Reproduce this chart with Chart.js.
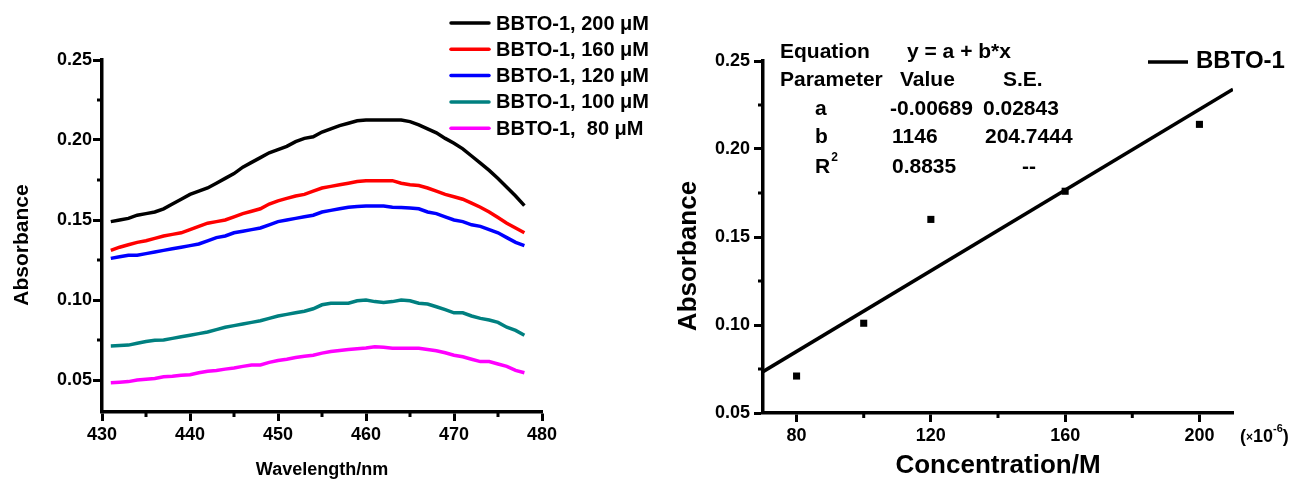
<!DOCTYPE html>
<html>
<head>
<meta charset="utf-8">
<script src="https://cdn.jsdelivr.net/npm/chart.js@4.4.0/dist/chart.umd.min.js"></script>
<style>
  html, body { margin: 0; padding: 0; background: #fff; }
  body { width: 1298px; height: 486px; position: relative; overflow: hidden; }
  canvas { position: absolute; top: 0; }
  #spectra { left: 0; }
  #calib { left: 660px; }
</style>
</head>
<body>
<canvas id="spectra" width="680" height="486"></canvas>
<canvas id="calib" width="638" height="486"></canvas>
<script>
// ---- left panel: absorption spectra ----
const wavelengths = [431, 432, 433, 434, 435, 436, 437, 438, 439, 440,
  441, 442, 443, 444, 445, 446, 447, 448, 449, 450,
  451, 452, 453, 454, 455, 456, 457, 458, 459, 460,
  461, 462, 463, 464, 465, 466, 467, 468, 469, 470,
  471, 472, 473, 474, 475, 476, 477, 478];

const abs200 = [0.149, 0.150, 0.151, 0.153, 0.154, 0.155, 0.157, 0.160, 0.163, 0.166,
  0.168, 0.170, 0.173, 0.176, 0.179, 0.183, 0.186, 0.189, 0.192, 0.194,
  0.196, 0.199, 0.201, 0.202, 0.205, 0.207, 0.209, 0.2105, 0.212, 0.2125,
  0.2125, 0.2125, 0.2125, 0.2125, 0.2115, 0.2095, 0.207, 0.2045, 0.201, 0.198,
  0.1945, 0.190, 0.1855, 0.181, 0.176, 0.1705, 0.165, 0.159];

const abs160 = [0.131, 0.133, 0.1345, 0.136, 0.137, 0.1385, 0.140, 0.141, 0.142, 0.144,
  0.146, 0.148, 0.149, 0.150, 0.152, 0.154, 0.1555, 0.157, 0.160, 0.162,
  0.1635, 0.165, 0.166, 0.168, 0.170, 0.171, 0.172, 0.173, 0.174, 0.1745,
  0.1746, 0.1746, 0.1746, 0.173, 0.172, 0.1715, 0.170, 0.168, 0.166, 0.1645,
  0.163, 0.1605, 0.158, 0.155, 0.1515, 0.148, 0.145, 0.142];

const abs120 = [0.126, 0.127, 0.128, 0.128, 0.129, 0.130, 0.131, 0.132, 0.133, 0.134,
  0.135, 0.137, 0.139, 0.140, 0.142, 0.143, 0.144, 0.145, 0.147, 0.149,
  0.150, 0.151, 0.152, 0.153, 0.155, 0.156, 0.157, 0.158, 0.1585, 0.1588,
  0.1588, 0.1588, 0.158, 0.1578, 0.1575, 0.157, 0.155, 0.154, 0.152, 0.150,
  0.149, 0.147, 0.146, 0.144, 0.142, 0.139, 0.136, 0.134];

const abs100 = [0.0713, 0.0715, 0.0718, 0.073, 0.074, 0.0748, 0.075, 0.076, 0.077, 0.078,
  0.079, 0.080, 0.0815, 0.083, 0.084, 0.085, 0.086, 0.087, 0.0885, 0.090,
  0.091, 0.092, 0.093, 0.0945, 0.097, 0.098, 0.098, 0.098, 0.0995, 0.100,
  0.099, 0.0985, 0.099, 0.100, 0.0995, 0.098, 0.0975, 0.0958, 0.094, 0.092,
  0.092, 0.090, 0.0885, 0.0875, 0.086, 0.083, 0.081, 0.078];

const abs80 = [0.0483, 0.0486, 0.049, 0.050, 0.0505, 0.051, 0.052, 0.0523, 0.053, 0.0533,
  0.0545, 0.0555, 0.056, 0.0568, 0.0575, 0.0585, 0.0594, 0.0594, 0.061, 0.0622,
  0.063, 0.064, 0.0648, 0.0655, 0.0668, 0.0678, 0.0685, 0.069, 0.0695, 0.070,
  0.0708, 0.0705, 0.0698, 0.0698, 0.0698, 0.0698, 0.069, 0.0683, 0.067, 0.0655,
  0.0645, 0.063, 0.0615, 0.0615, 0.060, 0.0585, 0.056, 0.0545];

const seriesLabels = ['BBTO-1, 200 \u03bcM', 'BBTO-1, 160 \u03bcM', 'BBTO-1, 120 \u03bcM',
  'BBTO-1, 100 \u03bcM', 'BBTO-1,  80 \u03bcM'];
const seriesColors = ['#000000', '#ff0000', '#0000ff', '#008080', '#ff00ff'];

const spectraXTicks = [430, 440, 450, 460, 470, 480];
const spectraXMinor = [435, 445, 455, 465, 475];
const spectraYTicks = [0.05, 0.10, 0.15, 0.20, 0.25];
const spectraYMinor = [0.075, 0.125, 0.175, 0.225];

// ---- right panel: calibration line ----
const concentrations = [80, 100, 120, 160, 200];
const absMeasured = [0.071, 0.101, 0.160, 0.176, 0.214];
const fitX = [70, 210];
const fitY = [0.0735, 0.234];

const calibXTicks = [80, 120, 160, 200];
const calibXMinor = [100, 140, 180];
const calibYTicks = [0.05, 0.10, 0.15, 0.20, 0.25];
const calibYMinor = [0.075, 0.125, 0.175, 0.225];

const tableRows = [
  ['Equation', 'y = a + b*x', ''],
  ['Parameter', 'Value', 'S.E.'],
  ['a', '-0.00689', '0.02843'],
  ['b', '1146', '204.7444'],
  ['R', '0.8835', '--']
];

const FONT = "'Liberation Sans', Arial, Helvetica, sans-serif";

// short outward tick marks between the labelled ones
const minorTicks = {
  id: 'minorTicks',
  afterDraw(chart, args, opts) {
    const { ctx } = chart;
    const xs = chart.scales.x;
    const ys = chart.scales.y;
    ctx.save();
    ctx.strokeStyle = '#000';
    ctx.lineWidth = opts.width;
    opts.x.forEach(v => {
      const px = xs.getPixelForValue(v);
      ctx.beginPath();
      ctx.moveTo(px, xs.top);
      ctx.lineTo(px, xs.top + opts.length);
      ctx.stroke();
    });
    opts.y.forEach(v => {
      const py = ys.getPixelForValue(v);
      ctx.beginPath();
      ctx.moveTo(ys.right, py);
      ctx.lineTo(ys.right - opts.length, py);
      ctx.stroke();
    });
    ctx.restore();
  }
};

// vertical axis title, placed like Origin does (not centred on the axis)
const yTitle = {
  id: 'yTitle',
  afterDraw(chart, args, opts) {
    const { ctx } = chart;
    ctx.save();
    ctx.translate(opts.x, opts.y);
    ctx.rotate(-Math.PI / 2);
    ctx.font = `bold ${opts.size}px ${FONT}`;
    ctx.fillStyle = '#000';
    ctx.textAlign = 'center';
    ctx.textBaseline = 'middle';
    ctx.fillText(opts.text, 0, 0);
    ctx.restore();
  }
};

function makeAxis(cfg) {
  return {
    type: 'linear',
    min: cfg.min,
    max: cfg.max,
    afterBuildTicks: scale => { scale.ticks = cfg.ticks.map(v => ({ value: v })); },
    afterFit: scale => {
      if (cfg.horizontal) scale.height = cfg.size; else scale.width = cfg.size;
    },
    border: { display: true, color: '#000', width: 3.5 },
    grid: {
      drawOnChartArea: false,
      drawTicks: true,
      tickLength: 9,
      tickWidth: 3,
      color: '#000',
      tickColor: '#000'
    },
    ticks: {
      color: '#000',
      padding: cfg.tickPad,
      font: { family: FONT, size: cfg.tickSize, weight: 'bold' },
      callback: cfg.format
    },
    title: {
      display: !!cfg.title,
      text: cfg.title || '',
      color: '#000',
      font: { family: FONT, size: cfg.titleSize || 12, weight: 'bold', lineHeight: 1 },
      padding: cfg.titlePad || 0
    }
  };
}

const spectraLegend = {
  id: 'spectraLegend',
  afterDraw(chart) {
    const { ctx } = chart;
    ctx.save();
    ctx.font = `bold 20px ${FONT}`;
    ctx.textBaseline = 'middle';
    ctx.textAlign = 'left';
    chart.data.datasets.forEach((ds, i) => {
      const y = 23 + i * 26.3;
      ctx.strokeStyle = ds.borderColor;
      ctx.lineWidth = 3.5;
      ctx.lineCap = 'round';
      ctx.beginPath();
      ctx.moveTo(451, y);
      ctx.lineTo(489, y);
      ctx.stroke();
      ctx.fillStyle = '#000';
      ctx.fillText(ds.label, 496, y + 1);
    });
    ctx.restore();
  }
};

new Chart(document.getElementById('spectra'), {
  type: 'line',
  data: {
    datasets: [abs200, abs160, abs120, abs100, abs80].map((vals, i) => ({
      label: seriesLabels[i],
      data: wavelengths.map((w, j) => ({ x: w, y: vals[j] })),
      borderColor: seriesColors[i],
      borderWidth: 3.5,
      pointRadius: 0,
      tension: 0,
      fill: false
    }))
  },
  options: {
    responsive: false,
    animation: false,
    devicePixelRatio: 1,
    layout: { padding: { left: 0, top: 60, right: 138, bottom: 0 } },
    plugins: {
      legend: { display: false },
      tooltip: { enabled: false },
      minorTicks: { x: spectraXMinor, y: spectraYMinor, length: 5, width: 3 },
      yTitle: { text: 'Absorbance', size: 21, x: 22, y: 245 }
    },
    scales: {
      x: makeAxis({
        horizontal: true, min: 430, max: 480, ticks: spectraXTicks, size: 74,
        tickPad: 3, tickSize: 18, format: v => String(v),
        title: 'Wavelength/nm', titleSize: 18, titlePad: { top: 0, bottom: 7 }
      }),
      y: makeAxis({
        horizontal: false, min: 0.03, max: 0.25, ticks: spectraYTicks, size: 102,
        tickPad: 1, tickSize: 18, format: v => v.toFixed(2)
      })
    }
  },
  plugins: [minorTicks, spectraLegend, yTitle]
});

// fit table, legend and unit multiplier of the right panel
const calibDecor = {
  id: 'calibDecor',
  afterDraw(chart) {
    const { ctx } = chart;
    ctx.save();
    ctx.fillStyle = '#000';
    ctx.textBaseline = 'middle';
    ctx.textAlign = 'left';

    // parameter table
    ctx.font = `bold 21px ${FONT}`;
    const rowY = [52, 80, 109, 137, 167];
    const colX = [
      [120, 247, 0],
      [120, 240, 343],
      [155, 230, 323],
      [155, 232, 325],
      [155, 232, 362]
    ];
    tableRows.forEach((row, r) => {
      row.forEach((txt, c) => {
        if (txt) ctx.fillText(txt, colX[r][c], rowY[r]);
      });
    });
    const rW = ctx.measureText('R').width;
    ctx.font = `bold 12px ${FONT}`;
    ctx.fillText('2', colX[4][0] + rW + 1, rowY[4] - 9);

    // legend
    const ds = chart.data.datasets[1];
    ctx.strokeStyle = ds.borderColor;
    ctx.lineWidth = 3.5;
    ctx.beginPath();
    ctx.moveTo(488, 62);
    ctx.lineTo(528, 62);
    ctx.stroke();
    ctx.font = `bold 24px ${FONT}`;
    ctx.fillText(ds.label, 536, 61);

    // (x10^-6)
    const xs = chart.scales.x;
    let x = xs.right + 7;
    const y = 437;
    ctx.font = `bold 18px ${FONT}`;
    ctx.fillText('(', x, y);
    x += ctx.measureText('(').width;
    ctx.font = `bold 12px ${FONT}`;
    ctx.fillText('\u00d7', x, y + 1);
    x += ctx.measureText('\u00d7').width;
    ctx.font = `bold 18px ${FONT}`;
    ctx.fillText('10', x, y);
    x += ctx.measureText('10').width;
    ctx.font = `bold 11px ${FONT}`;
    ctx.fillText('-6', x, y - 8);
    x += ctx.measureText('-6').width;
    ctx.font = `bold 18px ${FONT}`;
    ctx.fillText(')', x, y);
    ctx.restore();
  }
};

new Chart(document.getElementById('calib'), {
  type: 'scatter',
  data: {
    datasets: [
      {
        label: 'measured',
        data: concentrations.map((c, i) => ({ x: c, y: absMeasured[i] })),
        pointStyle: 'rect',
        pointRadius: 5,
        backgroundColor: '#000',
        borderWidth: 0
      },
      {
        label: 'BBTO-1',
        type: 'line',
        data: fitX.map((c, i) => ({ x: c, y: fitY[i] })),
        borderColor: '#000',
        borderWidth: 3.5,
        pointRadius: 0,
        fill: false
      }
    ]
  },
  options: {
    responsive: false,
    animation: false,
    devicePixelRatio: 1,
    layout: { padding: { left: 0, top: 61, right: 65, bottom: 0 } },
    plugins: {
      legend: { display: false },
      tooltip: { enabled: false },
      minorTicks: { x: calibXMinor, y: calibYMinor, length: 5, width: 3 },
      yTitle: { text: 'Absorbance', size: 26, x: 29, y: 256 }
    },
    scales: {
      x: makeAxis({
        horizontal: true, min: 70, max: 210, ticks: calibXTicks, size: 73,
        tickPad: 3, tickSize: 18, format: v => String(v),
        title: 'Concentration/M', titleSize: 26, titlePad: { top: 0, bottom: 7 }
      }),
      y: makeAxis({
        horizontal: false, min: 0.05, max: 0.25, ticks: calibYTicks, size: 103,
        tickPad: 4, tickSize: 18, format: v => v.toFixed(2)
      })
    }
  },
  plugins: [minorTicks, calibDecor, yTitle]
});
</script>
</body>
</html>
